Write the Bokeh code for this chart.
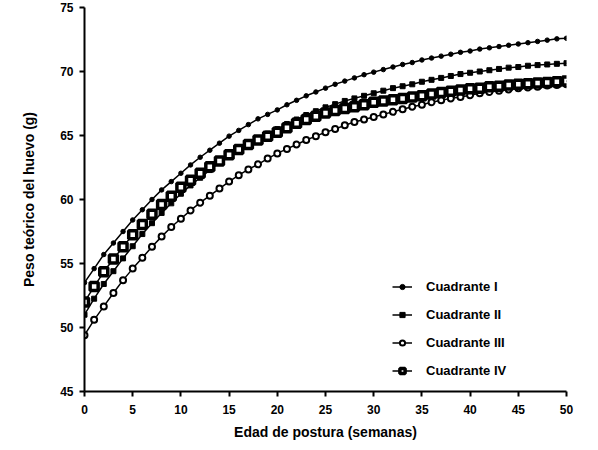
from bokeh.plotting import figure
from bokeh.models import Legend, LegendItem, FixedTicker, ColumnDataSource
from bokeh.embed import file_html
from bokeh.resources import INLINE

weeks = list(range(0, 51))

cuadrante_1 = [53.5, 54.6, 55.7, 56.6, 57.5, 58.4, 59.2, 60.0, 60.75, 61.4,
               62.05, 62.7, 63.3, 63.85, 64.4, 64.95, 65.4, 65.85, 66.3, 66.65,
               67.0, 67.4, 67.75, 68.1, 68.4, 68.7, 69.0, 69.25, 69.5, 69.75,
               69.95, 70.15, 70.35, 70.55, 70.7, 70.9, 71.05, 71.2, 71.35, 71.5,
               71.6, 71.75, 71.85, 71.95, 72.05, 72.15, 72.25, 72.35, 72.45, 72.55,
               72.6]
cuadrante_2 = [51.0, 52.25, 53.4, 54.4, 55.4, 56.35, 57.3, 58.15, 58.95, 59.7,
               60.45, 61.1, 61.7, 62.3, 62.9, 63.45, 63.9, 64.35, 64.75, 65.15,
               65.5, 65.9, 66.25, 66.6, 66.9, 67.2, 67.45, 67.7, 67.9, 68.1,
               68.3, 68.5, 68.7, 68.85, 69.0, 69.2, 69.35, 69.5, 69.65, 69.8,
               69.9, 70.0, 70.1, 70.2, 70.3, 70.35, 70.45, 70.5, 70.55, 70.6,
               70.65]
cuadrante_3 = [49.4, 50.6, 51.65, 52.7, 53.7, 54.6, 55.45, 56.3, 57.1, 57.85,
               58.5, 59.15, 59.75, 60.3, 60.85, 61.4, 61.9, 62.35, 62.75, 63.2,
               63.6, 63.95, 64.3, 64.65, 64.95, 65.25, 65.5, 65.8, 66.05, 66.25,
               66.45, 66.65, 66.85, 67.05, 67.25, 67.4, 67.6, 67.75, 67.9, 68.0,
               68.15, 68.3, 68.4, 68.5, 68.6, 68.7, 68.75, 68.8, 68.9, 68.95,
               69.0]
cuadrante_4 = [52.0, 53.2, 54.35, 55.35, 56.3, 57.25, 58.05, 58.85, 59.6, 60.25,
               60.95, 61.5, 62.05, 62.55, 63.0, 63.5, 63.9, 64.3, 64.65, 64.95,
               65.25, 65.6, 65.95, 66.25, 66.5, 66.75, 66.95, 67.1, 67.25, 67.4,
               67.6, 67.7, 67.8, 67.9, 68.0, 68.1, 68.25, 68.35, 68.45, 68.55,
               68.65, 68.7, 68.8, 68.85, 68.95, 69.0, 69.05, 69.1, 69.15, 69.2,
               69.25]

labels = ["Cuadrante I", "Cuadrante II", "Cuadrante III", "Cuadrante IV"]
x_ticks = [0, 5, 10, 15, 20, 25, 30, 35, 40, 45, 50]
y_ticks = [45, 50, 55, 60, 65, 70, 75]

FONT = "Liberation Sans"

p = figure(width=590, height=442, x_range=(0, 50), y_range=(45, 75),
           output_backend="svg", toolbar_location=None,
           min_border_left=84, min_border_right=24, min_border_top=7,
           min_border_bottom=45)
p.outline_line_color = None
p.grid.visible = False

for ax in (p.xaxis[0], p.yaxis[0]):
    ax.axis_line_width = 2
    ax.axis_line_color = "black"
    ax.major_tick_line_width = 2
    ax.major_tick_out = 5
    ax.major_tick_in = 0
    ax.minor_tick_line_color = None
    ax.major_label_text_font = FONT
    ax.major_label_text_font_style = "bold"
    ax.major_label_text_font_size = "12px"
    ax.major_label_text_color = "black"
    ax.axis_label_text_font = FONT
    ax.axis_label_text_font_style = "bold"
    ax.axis_label_text_font_size = "14px"
    ax.axis_label_text_color = "black"

p.xaxis.ticker = FixedTicker(ticks=x_ticks)
p.yaxis.ticker = FixedTicker(ticks=y_ticks)
p.xaxis.major_label_standoff = 8
p.yaxis.major_label_standoff = 6
p.xaxis.axis_label = "Edad de postura (semanas)"
p.yaxis.axis_label = "Peso teórico del huevo (g)"
p.xaxis.axis_label_standoff = 7
p.yaxis.axis_label_standoff = 20

series = [cuadrante_1, cuadrante_2, cuadrante_3, cuadrante_4]
styles = [
    dict(marker="circle", size=4.5, fill_color="black", line_width=1),
    dict(marker="square", size=5, fill_color="black", line_width=1),
    dict(marker="circle", size=6, fill_color="white", line_width=2),
    dict(marker="square", size=8, fill_color="white", line_width=3.5),
]

items = []
for lab, ys, st in zip(labels, series, styles):
    src = ColumnDataSource(dict(x=weeks, y=ys))
    ln = p.line("x", "y", source=src, line_color="black", line_width=1.5)
    sc = p.scatter("x", "y", source=src, marker=st["marker"], size=st["size"],
                   fill_color=st["fill_color"], line_color="black",
                   line_width=st["line_width"])
    items.append(LegendItem(label=lab, renderers=[ln, sc]))

legend = Legend(items=items, location=(308, 13), orientation="vertical",
                background_fill_alpha=0, border_line_color=None,
                label_text_font=FONT, label_text_font_style="bold",
                label_text_font_size="13px", label_text_color="black",
                glyph_width=20, glyph_height=13, spacing=13, padding=0,
                margin=0, label_standoff=14, label_height=15)
p.add_layout(legend, "center")

open("out.html", "w").write(file_html(p, INLINE))
